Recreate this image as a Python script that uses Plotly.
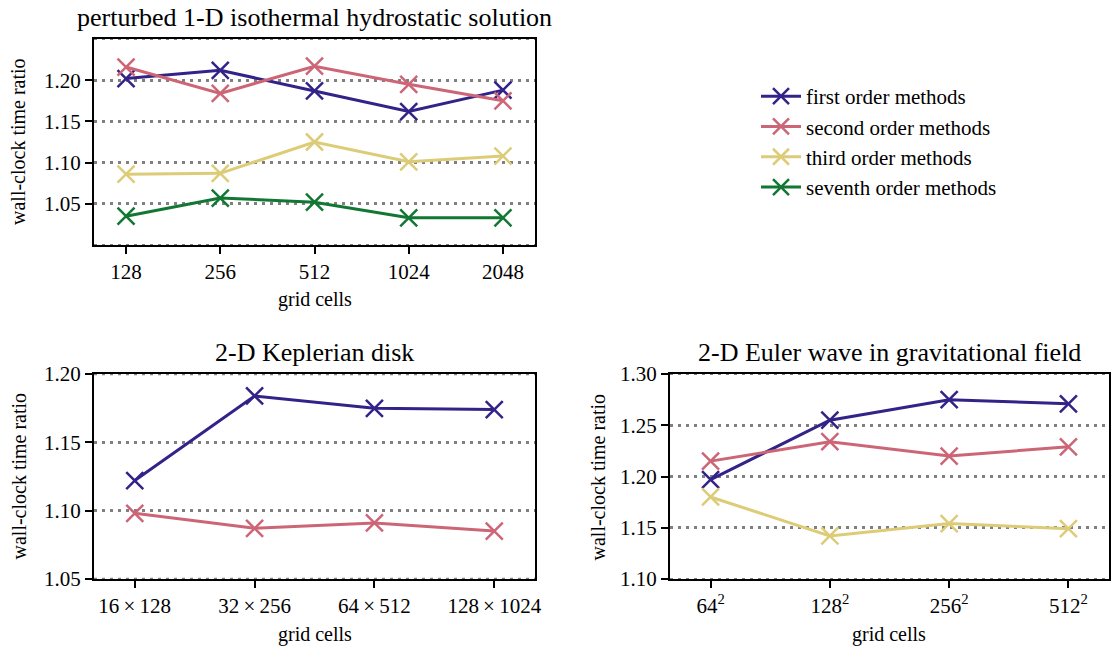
import plotly.graph_objects as go

# ---------------- data ----------------
cells_1d = ["128", "256", "512", "1024", "2048"]
first_1d = [1.202, 1.212, 1.187, 1.162, 1.188]
second_1d = [1.216, 1.184, 1.217, 1.195, 1.175]
third_1d = [1.086, 1.087, 1.125, 1.101, 1.108]
seventh_1d = [1.035, 1.057, 1.052, 1.033, 1.033]

cells_kep = ["16\u2009×\u2009128", "32\u2009×\u2009256", "64\u2009×\u2009512", "128\u2009×\u20091024"]
first_kep = [1.122, 1.184, 1.175, 1.174]
second_kep = [1.098, 1.087, 1.091, 1.085]

cells_euler = ["64<sup>2</sup>", "128<sup>2</sup>", "256<sup>2</sup>", "512<sup>2</sup>"]
first_euler = [1.197, 1.255, 1.275, 1.271]
second_euler = [1.215, 1.234, 1.220, 1.229]
third_euler = [1.180, 1.142, 1.154, 1.149]

series_names = ["first order methods", "second order methods",
                "third order methods", "seventh order methods"]
colors = ["#332288", "#CC6677", "#DDCC77", "#117733"]

titles = ["perturbed 1-D isothermal hydrostatic solution",
          "2-D Keplerian disk",
          "2-D Euler wave in gravitational field"]

FONT = "Liberation Serif"
W, H = 1115, 650

fig = go.Figure()


def add(x, y, idx, xa, ya, legend):
    fig.add_trace(go.Scatter(
        x=x, y=y, mode="lines+markers", name=series_names[idx],
        line=dict(color=colors[idx], width=3),
        marker=dict(symbol="x-thin", size=17, line=dict(color=colors[idx], width=2.5)),
        xaxis=xa, yaxis=ya, showlegend=legend))


add(cells_1d, first_1d, 0, "x", "y", True)
add(cells_1d, second_1d, 1, "x", "y", True)
add(cells_1d, third_1d, 2, "x", "y", True)
add(cells_1d, seventh_1d, 3, "x", "y", True)

add(cells_kep, first_kep, 0, "x2", "y2", False)
add(cells_kep, second_kep, 1, "x2", "y2", False)

add(cells_euler, first_euler, 0, "x3", "y3", False)
add(cells_euler, second_euler, 1, "x3", "y3", False)
add(cells_euler, third_euler, 2, "x3", "y3", False)


def dx(a, b):
    return [a / W, b / W]


def dy(top, bottom):
    return [1 - bottom / H, 1 - top / H]


dom = {
    1: (dx(94, 535), dy(39, 245)),
    2: (dx(94, 535), dy(374, 579)),
    3: (dx(670, 1109), dy(374, 579)),
}

grid_kw = dict(showgrid=True, gridcolor="#808080", gridwidth=3, griddash="3px,5px")
axis_common = dict(showline=True, linecolor="black", linewidth=2, mirror=True,
                   ticks="outside", ticklen=7, tickwidth=2, tickcolor="black",
                   tickfont=dict(family=FONT, size=21, color="black"),
                   zeroline=False, automargin=False)

yinfo = {
    1: dict(range=[1.0, 1.25], tickvals=[1.05, 1.10, 1.15, 1.20]),
    2: dict(range=[1.0499, 1.2001], tickvals=[1.05, 1.10, 1.15, 1.20]),
    3: dict(range=[1.0999, 1.3001], tickvals=[1.10, 1.15, 1.20, 1.25, 1.30]),
}
ncat = {1: len(cells_1d), 2: len(cells_kep), 3: len(cells_euler)}

layout = {}
for i in (1, 2, 3):
    sx = "" if i == 1 else str(i)
    xd, yd = dom[i]
    layout["xaxis" + sx] = dict(domain=xd, anchor="y" + sx, type="category",
                                range=[-0.34, ncat[i] - 1 + 0.34], showgrid=False,
                                **axis_common)
    layout["yaxis" + sx] = dict(domain=yd, anchor="x" + sx, tickformat=".2f",
                                range=yinfo[i]["range"], tickvals=yinfo[i]["tickvals"],
                                **grid_kw, **axis_common)

fig.update_layout(**layout)

shapes = []
annotations = []
title_pos = {1: (314, 18), 2: (314, 352), 3: (889, 352)}
ylab_x = {1: 18, 2: 18, 3: 597}
xlab_y = {1: 299, 2: 634, 3: 634}
edge_vals = {1: [1.0, 1.25], 2: [1.05, 1.20], 3: [1.10, 1.30]}
for i in (1, 2, 3):
    sx = "" if i == 1 else str(i)
    xd, yd = dom[i]
    for v in edge_vals[i]:
        shapes.append(dict(type="line", xref=("x" + sx) + " domain", yref="y" + sx,
                           x0=0, x1=1, y0=v, y1=v, layer="above",
                           line=dict(color="#808080", width=2, dash="3px,5px")))
    tx, ty = title_pos[i]
    annotations.append(dict(text=titles[i - 1], x=(xd[0] + xd[1]) / 2, y=1 - ty / H,
                            xref="paper", yref="paper",
                            xanchor="center", yanchor="middle", showarrow=False,
                            font=dict(family=FONT, size=26, color="black")))
    annotations.append(dict(text="wall-clock time ratio", x=ylab_x[i] / W,
                            y=(yd[0] + yd[1]) / 2, xref="paper", yref="paper",
                            xanchor="center", yanchor="middle", textangle=-90, showarrow=False,
                            font=dict(family=FONT, size=20, color="black")))
    annotations.append(dict(text="grid cells", x=(xd[0] + xd[1]) / 2, y=1 - xlab_y[i] / H,
                            xref="paper", yref="paper", xanchor="center", yanchor="middle",
                            showarrow=False, font=dict(family=FONT, size=20, color="black")))

fig.update_layout(
    width=W, height=H, margin=dict(l=0, r=0, t=0, b=0, autoexpand=False),
    paper_bgcolor="white", plot_bgcolor="white",
    font=dict(family=FONT, size=20, color="black"),
    shapes=shapes, annotations=annotations,
    legend=dict(x=756 / W, y=1 - 76 / H, xanchor="left", yanchor="top",
                font=dict(family=FONT, size=21, color="black"),
                bgcolor="rgba(0,0,0,0)", itemwidth=40),
)

fig.write_html("out.html")
